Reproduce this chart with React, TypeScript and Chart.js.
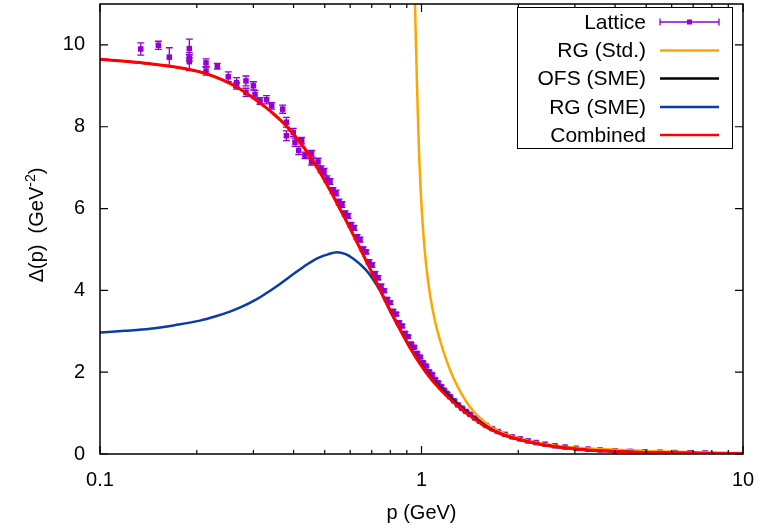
import React, { useEffect, useRef } from 'react';
import { Chart, registerables } from 'chart.js';

Chart.register(...registerables);

// ---------------- data ----------------
const latticeP = [
  0.1339, 0.1519, 0.1643, 0.1896, 0.1896, 0.1896, 0.2137, 0.2137, 0.2317, 0.2506,
  0.266, 0.266, 0.2845, 0.2845, 0.300, 0.3035, 0.3146, 0.3298, 0.342, 0.370,
  0.380, 0.380, 0.399, 0.404, 0.424, 0.415, 0.434, 0.455, 0.455,
  0.4765, 0.4868, 0.4974, 0.5082, 0.5193, 0.5306, 0.5421, 0.5539, 0.5659, 0.5782,
  0.5908, 0.6036, 0.6167, 0.6301, 0.6438, 0.6578, 0.6721, 0.6867, 0.7016, 0.7168,
  0.7324, 0.7483, 0.7646, 0.7812, 0.7982, 0.8155, 0.8332, 0.8513, 0.8698, 0.8887,
  0.9080, 0.9277, 0.9479, 0.9685, 0.9895, 1.0110, 1.0330, 1.0554, 1.0783, 1.1017,
  1.1257, 1.1501, 1.1751, 1.2006, 1.2267, 1.2621, 1.2988, 1.3366, 1.3754, 1.4155,
  1.4670, 1.5204, 1.5872, 1.6569, 1.7297, 1.8186, 1.9121, 2.0249, 2.1443, 2.2706,
  2.4218, 2.6016, 2.795, 3.024, 3.295, 3.592, 3.999, 4.453, 4.957, 5.518,
  6.144, 6.841, 7.618,
];
const latticeDelta = [
  9.90, 9.99, 9.70, 9.91, 9.68, 9.59, 9.56, 9.36, 9.48, 9.22,
  9.08, 9.00, 9.12, 8.84, 9.00, 8.79, 8.63, 8.66, 8.51, 8.43,
  8.11, 7.78, 7.86, 7.62, 7.66, 7.42, 7.30, 7.34, 7.14,
  7.14, 6.96, 6.90, 6.72, 6.66, 6.44, 6.38, 6.16, 6.10, 5.88,
  5.82, 5.60, 5.53, 5.30, 5.24, 5.01, 4.94, 4.70, 4.62, 4.41,
  4.31, 4.10, 3.99, 3.78, 3.70, 3.49, 3.42, 3.21, 3.13, 2.95,
  2.87, 2.69, 2.61, 2.46, 2.37, 2.23, 2.15, 2.01, 1.94, 1.82,
  1.74, 1.65, 1.56, 1.48, 1.40, 1.30, 1.20, 1.12, 1.04, 0.97,
  0.88, 0.80, 0.70, 0.62, 0.55, 0.48, 0.42, 0.37, 0.32, 0.28,
  0.24, 0.20, 0.17, 0.14, 0.12, 0.10, 0.08, 0.065, 0.055, 0.045,
  0.035, 0.03, 0.025,
];
const latticeErr = [
  0.15, 0.10, 0.23, 0.23, 0.08, 0.22, 0.10, 0.10, 0.07, 0.12,
  0.12, 0.08, 0.12, 0.10, 0.10, 0.10, 0.08, 0.10, 0.08, 0.10,
  0.12, 0.12, 0.10, 0.10, 0.08, 0.10, 0.08, 0.08, 0.08,
  0.09, 0.08, 0.08, 0.08, 0.07, 0.07, 0.07, 0.07, 0.07, 0.06,
  0.06, 0.06, 0.06, 0.06, 0.06, 0.05, 0.05, 0.05, 0.05, 0.05,
  0.05, 0.05, 0.04, 0.04, 0.04, 0.04, 0.04, 0.04, 0.04, 0.04,
  0.03, 0.03, 0.03, 0.03, 0.03, 0.03, 0.03, 0.03, 0.03, 0.03,
  0.03, 0.03, 0.02, 0.02, 0.02, 0.02, 0.02, 0.02, 0.02, 0.02,
  0.02, 0.02, 0.02, 0.02, 0.02, 0.02, 0.02, 0.01, 0.01, 0.01,
  0.01, 0.01, 0.01, 0.01, 0.01, 0.01, 0.01, 0.01, 0.01, 0.01,
  0.01, 0.01, 0.01,
];

const combinedP = [
  0.1, 0.1196, 0.1431, 0.1711, 0.2046, 0.2279, 0.2537, 0.2725, 0.2928, 0.3145,
  0.3379, 0.3630, 0.3899, 0.4189, 0.4499, 0.4834, 0.5193, 0.5578, 0.5992, 0.6437,
  0.6915, 0.7430, 0.7980, 0.8574, 0.9210, 0.9893, 1.0627, 1.1416, 1.2264, 1.3176,
  1.4155, 1.5204, 1.6332, 1.7798, 1.9536, 2.3366, 2.795, 3.343, 4.782, 7.349, 10,
];
const combinedDelta = [
  9.65, 9.60, 9.54, 9.46, 9.34, 9.22, 9.06, 8.92, 8.76, 8.58,
  8.39, 8.17, 7.92, 7.62, 7.28, 6.88, 6.45, 5.99, 5.52, 5.03,
  4.53, 4.02, 3.52, 3.05, 2.60, 2.21, 1.87, 1.59, 1.35, 1.13,
  0.94, 0.76, 0.61, 0.48, 0.38, 0.24, 0.15, 0.09, 0.045, 0.02, 0.01,
];

const ofsP = [
  0.1, 0.1196, 0.1431, 0.1711, 0.2046, 0.2279, 0.2537, 0.2725, 0.2928, 0.3145,
  0.3379, 0.3630, 0.3899, 0.4189, 0.4499, 0.4834, 0.5193, 0.5578, 0.5992, 0.6437,
  0.6915, 0.7430, 0.7980, 0.8574, 0.9210, 0.9893, 1.0627, 1.1416, 1.2264, 1.3176,
  1.4155, 1.5204, 1.6332, 1.7798, 1.9536, 2.3366, 2.795, 3.343, 4.782, 7.349, 10,
];
const ofsDelta = [
  9.65, 9.60, 9.54, 9.46, 9.34, 9.22, 9.06, 8.92, 8.76, 8.58,
  8.39, 8.17, 7.92, 7.62, 7.28, 6.88, 6.45, 5.99, 5.52, 5.03,
  4.53, 4.02, 3.52, 3.06, 2.62, 2.24, 1.91, 1.63, 1.39, 1.17,
  0.97, 0.79, 0.63, 0.49, 0.385, 0.24, 0.15, 0.09, 0.045, 0.02, 0.01,
];

const rgSmeP = [
  0.1, 0.1196, 0.1431, 0.1711, 0.2046, 0.2279, 0.2537, 0.2765, 0.3035, 0.3260,
  0.3502, 0.3709, 0.3899, 0.4100, 0.4341, 0.4565, 0.4834, 0.5119, 0.5460, 0.5782,
  0.6123, 0.6437, 0.6769, 0.7066, 0.7430, 0.7980, 0.8574, 0.9210, 0.9893, 1.0627,
  1.1416, 1.2264, 1.3176, 1.4155, 1.5204, 1.6332, 1.7798, 1.9536, 2.3366, 2.795,
  3.343, 4.782, 7.349, 10,
];
const rgSmeDelta = [
  2.97, 3.01, 3.06, 3.15, 3.26, 3.36, 3.48, 3.60, 3.76, 3.91,
  4.07, 4.21, 4.34, 4.46, 4.60, 4.71, 4.81, 4.88, 4.93, 4.89,
  4.78, 4.64, 4.47, 4.27, 3.99, 3.50, 3.04, 2.60, 2.21, 1.87,
  1.59, 1.35, 1.13, 0.94, 0.76, 0.61, 0.48, 0.38, 0.24, 0.15,
  0.09, 0.045, 0.02, 0.01,
];

const rgStdP = [
  0.9409, 0.9545, 0.9683, 0.9822, 0.9964, 1.0108, 1.0328, 1.0627, 1.1014, 1.1416,
  1.2003, 1.2531, 1.3366, 1.4155, 1.5204, 1.6332, 1.7545, 1.9536, 2.1754, 2.697,
  3.592, 5.137, 10,
];
const rgStdDelta = [
  13.0, 11.0, 9.0, 7.4, 6.3, 5.5, 4.65, 3.9, 3.25, 2.78,
  2.25, 1.88, 1.45, 1.15, 0.88, 0.68, 0.54, 0.41, 0.31, 0.19,
  0.12, 0.07, 0.02,
];

const xTickValues = [0.1, 1, 10];
const xTickLabels = ['0.1', '1', '10'];
const xMinorTicks = [0.2, 0.3, 0.4, 0.5, 0.6, 0.7, 0.8, 0.9, 2, 3, 4, 5, 6, 7, 8, 9];
const yTickValues = [0, 2, 4, 6, 8, 10];
const yTickLabels = ['0', '2', '4', '6', '8', '10'];

const legendLabels = ['Lattice', 'RG (Std.)', 'OFS (SME)', 'RG (SME)', 'Combined'];
const seriesColors = ['#9400d3', '#ffa500', '#000000', '#0a3ca8', '#ff0000'];

const xTitle = 'p (GeV)';
const yTitleMain = 'Δ(p)  (GeV';
const yTitleSup = '-2';
const yTitleEnd = ')';

const FONT = "'Liberation Sans', Arial, Helvetica, sans-serif";

const toXY = (xs: number[], ys: number[]) => xs.map((x, i) => ({ x, y: ys[i] }));

const decorPlugin = {
  id: 'decor',
  beforeDatasetsDraw(chart: any) {
    const { ctx, chartArea, scales } = chart;
    const x = scales.x;
    const y = scales.y;
    ctx.save();
    ctx.beginPath();
    ctx.rect(chartArea.left, chartArea.top, chartArea.right - chartArea.left, chartArea.bottom - chartArea.top);
    ctx.clip();
    ctx.strokeStyle = seriesColors[0];
    ctx.lineWidth = 1.3;
    for (let i = 0; i < latticeP.length; i++) {
      const px = x.getPixelForValue(latticeP[i]);
      const y1 = y.getPixelForValue(latticeDelta[i] - latticeErr[i]);
      const y2 = y.getPixelForValue(latticeDelta[i] + latticeErr[i]);
      ctx.beginPath();
      ctx.moveTo(px, y1);
      ctx.lineTo(px, y2);
      ctx.moveTo(px - 3.5, y1);
      ctx.lineTo(px + 3.5, y1);
      ctx.moveTo(px - 3.5, y2);
      ctx.lineTo(px + 3.5, y2);
      ctx.stroke();
    }
    ctx.restore();
  },
  afterDraw(chart: any) {
    const { ctx, chartArea, scales } = chart;
    const x = scales.x;
    const y = scales.y;
    const L = chartArea.left, R = chartArea.right, T = chartArea.top, B = chartArea.bottom;
    ctx.save();
    // frame
    ctx.strokeStyle = '#000';
    ctx.lineWidth = 1.5;
    ctx.strokeRect(L, T, R - L, B - T);
    // ticks
    ctx.lineWidth = 1.2;
    ctx.beginPath();
    xTickValues.forEach((v) => {
      const px = x.getPixelForValue(v);
      ctx.moveTo(px, B); ctx.lineTo(px, B - 8);
      ctx.moveTo(px, T); ctx.lineTo(px, T + 8);
    });
    xMinorTicks.forEach((v) => {
      const px = x.getPixelForValue(v);
      ctx.moveTo(px, B); ctx.lineTo(px, B - 4);
      ctx.moveTo(px, T); ctx.lineTo(px, T + 4);
    });
    yTickValues.forEach((v) => {
      const py = y.getPixelForValue(v);
      ctx.moveTo(L, py); ctx.lineTo(L + 8, py);
      ctx.moveTo(R, py); ctx.lineTo(R - 8, py);
    });
    ctx.stroke();

    // axis titles
    ctx.fillStyle = '#000';
    ctx.font = `20px ${FONT}`;
    ctx.textAlign = 'center';
    ctx.textBaseline = 'middle';
    ctx.fillText(xTitle, (L + R) / 2, 513);

    ctx.save();
    ctx.translate(36, (T + B) / 2 - 4);
    ctx.rotate(-Math.PI / 2);
    ctx.font = `20px ${FONT}`;
    const w1 = ctx.measureText(yTitleMain).width;
    ctx.font = `14px ${FONT}`;
    const w2 = ctx.measureText(yTitleSup).width;
    ctx.font = `20px ${FONT}`;
    const w3 = ctx.measureText(yTitleEnd).width;
    const total = w1 + w2 + w3;
    let cx = -total / 2;
    ctx.textAlign = 'left';
    ctx.textBaseline = 'alphabetic';
    ctx.fillText(yTitleMain, cx, 7);
    cx += w1;
    ctx.font = `14px ${FONT}`;
    ctx.fillText(yTitleSup, cx, -1);
    cx += w2;
    ctx.font = `20px ${FONT}`;
    ctx.fillText(yTitleEnd, cx, 7);
    ctx.restore();

    // legend
    const bx = 517, by = 7, bw = 215, bh = 141;
    ctx.fillStyle = '#fff';
    ctx.fillRect(bx, by, bw, bh);
    ctx.strokeStyle = '#000';
    ctx.lineWidth = 1;
    ctx.strokeRect(bx + 0.5, by + 0.5, bw, bh);
    const rowY = [22, 50.5, 78.5, 107, 135];
    ctx.font = `21px ${FONT}`;
    ctx.textAlign = 'right';
    ctx.textBaseline = 'middle';
    legendLabels.forEach((lab, i) => {
      ctx.fillStyle = '#000';
      ctx.fillText(lab, 646, rowY[i] + 1);
      const yy = rowY[i];
      ctx.strokeStyle = seriesColors[i];
      if (i === 0) {
        ctx.lineWidth = 1.3;
        ctx.beginPath();
        ctx.moveTo(660, yy); ctx.lineTo(719, yy);
        ctx.moveTo(660, yy - 3.5); ctx.lineTo(660, yy + 3.5);
        ctx.moveTo(719, yy - 3.5); ctx.lineTo(719, yy + 3.5);
        ctx.stroke();
        ctx.fillStyle = seriesColors[0];
        ctx.fillRect(689.5 - 2.5, yy - 2.5, 5, 5);
      } else {
        ctx.lineWidth = 2.5;
        ctx.beginPath();
        ctx.moveTo(660, yy); ctx.lineTo(719, yy);
        ctx.stroke();
      }
    });
    ctx.restore();
  },
};

export default function App() {
  const canvasRef = useRef<HTMLCanvasElement | null>(null);

  useEffect(() => {
    document.body.style.margin = '0';
    const canvas = canvasRef.current;
    if (!canvas) return;
    const lineDs = (label: string, xs: number[], ys: number[], color: string, width: number, order: number) => ({
      label,
      data: toXY(xs, ys),
      showLine: true,
      borderColor: color,
      backgroundColor: color,
      borderWidth: width,
      pointRadius: 0,
      pointHoverRadius: 0,
      cubicInterpolationMode: 'monotone' as const,
      order,
    });
    const chart = new Chart(canvas, {
      type: 'scatter',
      data: {
        datasets: [
          {
            label: legendLabels[0],
            data: toXY(latticeP, latticeDelta),
            showLine: false,
            pointStyle: 'rect',
            pointRadius: 3.9,
            pointBorderWidth: 0,
            backgroundColor: seriesColors[0],
            borderColor: seriesColors[0],
            order: 5,
          },
          lineDs(legendLabels[1], rgStdP, rgStdDelta, seriesColors[1], 2.5, 4),
          lineDs(legendLabels[2], ofsP, ofsDelta, seriesColors[2], 2.2, 3),
          lineDs(legendLabels[3], rgSmeP, rgSmeDelta, seriesColors[3], 2.5, 2),
          lineDs(legendLabels[4], combinedP, combinedDelta, seriesColors[4], 3, 1),
        ] as any,
      },
      options: {
        animation: false,
        responsive: false,
        maintainAspectRatio: false,
        events: [],
        layout: { padding: { top: 1, right: 19, left: 0, bottom: 0 } },
        plugins: {
          legend: { display: false },
          tooltip: { enabled: false },
        },
        scales: {
          x: {
            type: 'logarithmic',
            min: 0.1,
            max: 10,
            afterBuildTicks: (s: any) => {
              s.ticks = xTickValues.map((v) => ({ value: v }));
            },
            afterFit: (s: any) => {
              s.height = 75;
              s.paddingLeft = 0;
              s.paddingRight = 0;
              s.paddingTop = 0;
              s.paddingBottom = 0;
            },
            ticks: {
              callback: (_v: any, i: number) => xTickLabels[i],
              font: { family: FONT, size: 20 },
              color: '#000',
              padding: 14,
              maxRotation: 0,
              minRotation: 0,
              autoSkip: false,
            },
            grid: { display: false, drawTicks: false },
            border: { display: false },
          },
          y: {
            type: 'linear',
            min: 0,
            max: 11,
            afterBuildTicks: (s: any) => {
              s.ticks = yTickValues.map((v) => ({ value: v }));
            },
            afterFit: (s: any) => {
              s.width = 100;
              s.paddingLeft = 0;
              s.paddingRight = 0;
              s.paddingTop = 0;
              s.paddingBottom = 0;
            },
            ticks: {
              callback: (_v: any, i: number) => yTickLabels[i],
              font: { family: FONT, size: 20 },
              color: '#000',
              padding: 15,
              autoSkip: false,
            },
            grid: { display: false, drawTicks: false },
            border: { display: false },
          },
        } as any,
      },
      plugins: [decorPlugin as any],
    });
    return () => chart.destroy();
  }, []);

  return (
    <div style={{ position: 'absolute', left: 0, top: 0, width: 762, height: 529, background: '#fff' }}>
      <canvas ref={canvasRef} width={762} height={529} style={{ width: 762, height: 529, display: 'block' }} />
    </div>
  );
}
